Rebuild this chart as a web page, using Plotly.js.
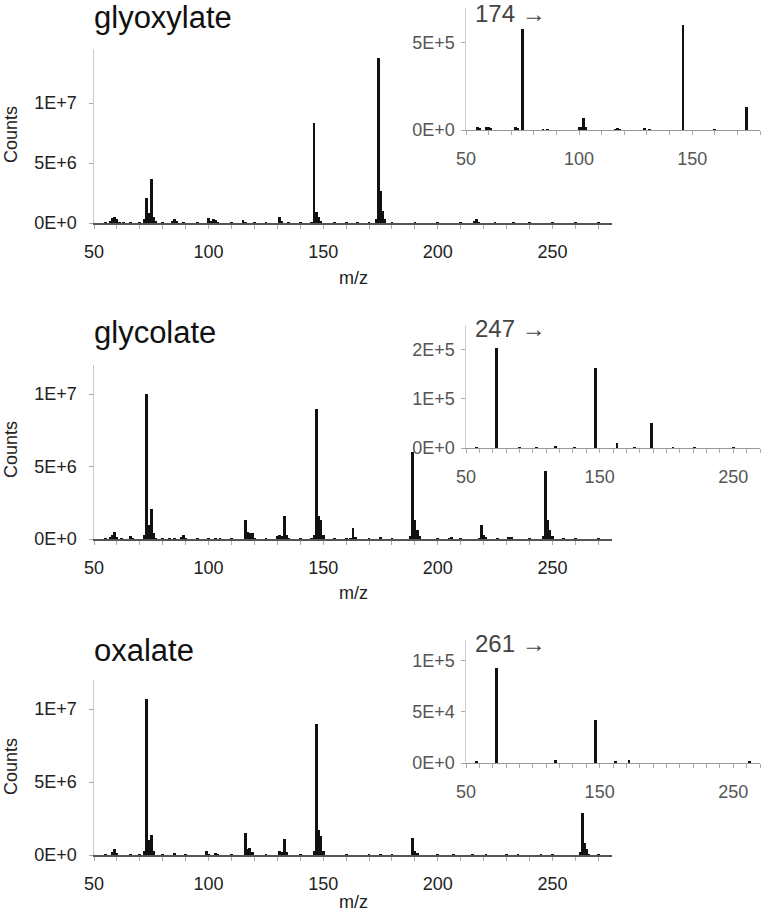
<!DOCTYPE html>
<html>
<head>
<meta charset="utf-8">
<script src="https://cdn.plot.ly/plotly-3.0.1.min.js"></script>
<style>html,body{margin:0;padding:0;background:#fff}#chart{width:767px;height:917px}</style>
</head>
<body>
<div id="chart"></div>
<script>
// ---------- DATA ----------
// glyoxylate full spectrum (counts in units of 1e6)
var glyoxMz = [55,57,58,59,60,61,63,66,70,72,73,74,75,76,77,80,84,85,86,89,95,100,101,102,103,104,110,115,116,120,125,131,132,135,140,145,146,147,148,149,155,160,165,170,173,174,175,176,177,180,190,200,210,216,217,218,225,233,240,250,260,270];
var glyoxCounts = [0.05,0.2,0.4,0.5,0.3,0.1,0.05,0.05,0.05,0.3,2.1,0.8,3.7,0.5,0.2,0.05,0.15,0.3,0.15,0.05,0.05,0.4,0.2,0.3,0.25,0.1,0.05,0.25,0.1,0.05,0.05,0.5,0.15,0.05,0.05,0.1,8.3,0.9,0.5,0.2,0.05,0.05,0.05,0.05,0.3,13.75,2.7,1.0,0.3,0.05,0.05,0.05,0.05,0.15,0.3,0.1,0.05,0.05,0.05,0.05,0.05,0.05];
// glyoxylate product ions of 174 (units of 1e5)
var glyoxInsetMz = [55,56,59,60,61,72,73,75,84,86,100,101,102,103,116,117,118,129,131,146,160,174];
var glyoxInsetCounts = [0.2,0.1,0.15,0.2,0.1,0.15,0.1,5.8,0.05,0.05,0.2,0.15,0.7,0.2,0.05,0.1,0.05,0.1,0.05,6.0,0.03,1.3];

// glycolate full spectrum (units of 1e6)
var glycoMz = [55,57,58,59,60,62,66,67,72,73,74,75,76,77,80,83,85,88,89,90,95,100,103,105,110,116,117,118,119,120,125,130,131,132,133,134,135,140,145,146,147,148,149,150,155,160,162,163,164,170,175,180,188,189,190,191,192,200,205,206,210,218,219,220,221,226,231,232,240,246,247,248,249,250,255,260,270];
var glycoCounts = [0.05,0.15,0.25,0.45,0.15,0.05,0.2,0.1,0.3,10.0,1.0,2.1,0.4,0.1,0.05,0.05,0.1,0.15,0.25,0.1,0.05,0.1,0.1,0.1,0.05,1.3,0.5,0.4,0.4,0.1,0.05,0.2,0.3,0.2,1.6,0.3,0.1,0.05,0.1,0.3,9.0,1.6,1.3,0.3,0.05,0.05,0.1,0.75,0.15,0.05,0.15,0.05,0.2,6.0,1.3,0.6,0.2,0.05,0.1,0.15,0.05,0.1,0.95,0.25,0.15,0.05,0.15,0.15,0.05,0.2,4.7,1.3,0.6,0.2,0.05,0.05,0.05];
// glycolate product ions of 247 (units of 1e5)
var glycoInsetMz = [58,73,90,103,117,131,147,163,176,189,205,221,235,250];
var glycoInsetCounts = [0.03,2.04,0.02,0.02,0.05,0.02,1.62,0.1,0.02,0.5,0.02,0.03,0.01,0.02];

// oxalate full spectrum (units of 1e6)
var oxalMz = [55,58,59,60,66,70,72,73,74,75,76,80,85,90,99,100,103,104,110,116,117,118,119,125,131,132,133,134,140,146,147,148,149,150,160,170,175,180,189,190,191,200,207,215,221,230,235,245,250,262,263,264,265,266,270];
var oxalCounts = [0.05,0.2,0.4,0.15,0.05,0.05,0.3,10.7,1.0,1.4,0.3,0.05,0.15,0.05,0.3,0.1,0.15,0.1,0.05,1.5,0.4,0.5,0.2,0.05,0.3,0.2,1.1,0.2,0.05,0.3,9.0,1.7,1.3,0.3,0.05,0.05,0.1,0.05,1.2,0.3,0.15,0.05,0.1,0.05,0.05,0.05,0.05,0.05,0.05,0.2,2.9,0.8,0.4,0.1,0.05];
// oxalate product ions of 261 (units of 1e4)
var oxalInsetMz = [58,73,117,147,162,172,262];
var oxalInsetCounts = [0.2,9.3,0.3,4.2,0.2,0.3,0.2];

var panelTitles = ["glyoxylate","glycolate","oxalate"];
var insetLabels = ["174 \u2192","247 \u2192","261 \u2192"];
var mainXTicks = [50,100,150,200,250];
var mainYTickVals = [0,5e6,1e7];
var mainYTickText = ["0E+0","5E+6","1E+7"];
var inset1XTicks = [50,100,150];
var inset1YTickVals = [0,5e5];
var inset1YTickText = ["0E+0","5E+5"];
var inset23XTicks = [50,150,250];
var inset2YTickVals = [0,1e5,2e5];
var inset2YTickText = ["0E+0","1E+5","2E+5"];
var inset3YTickVals = [0,5e4,1e5];
var inset3YTickText = ["0E+0","5E+4","1E+5"];

// ---------- BUILD ----------
function scale(arr, f){ return arr.map(function(v){return v*f;}); }
var W = 767, H = 917;
function px(x){ return x / W; }
function py(y){ return 1 - y / H; }

var FONT = "Liberation Sans, Arial, sans-serif";

function bar(x, y, xa, ya, w){
  return {type:'bar', x:x, y:y, xaxis:xa, yaxis:ya, width:w,
          marker:{color:'#111', line:{width:0}}, hoverinfo:'x+y'};
}

var traces = [
  bar(glyoxMz, scale(glyoxCounts,1e6), 'x', 'y', 1.2),
  bar(glyoxInsetMz, scale(glyoxInsetCounts,1e5), 'x2', 'y2', 1.2),
  bar(glycoMz, scale(glycoCounts,1e6), 'x3', 'y3', 1.2),
  bar(glycoInsetMz, scale(glycoInsetCounts,1e5), 'x4', 'y4', 2.0),
  bar(oxalMz, scale(oxalCounts,1e6), 'x5', 'y5', 1.2),
  bar(oxalInsetMz, scale(oxalInsetCounts,1e4), 'x6', 'y6', 2.0)
];

function mainX(yTop, yBot, anchor){
  return {domain:[px(94), px(612)], anchor:anchor, range:[50,276],
    tickmode:'array', tickvals:mainXTicks, ticks:'outside', ticklen:4, tickcolor:'#aaa',
    minor:{tickmode:'linear', tick0:50, dtick:10, ticks:'outside', ticklen:4, tickcolor:'#aaa'},
    showline:true, linecolor:'#555', linewidth:1.5, showgrid:false, zeroline:false,
    ticklabelstandoff:8,
    tickfont:{family:FONT, size:18, color:'#222'}, fixedrange:true};
}
function mainY(yTop, yBot, maxV, anchor){
  return {domain:[py(yBot), py(yTop)], anchor:anchor, range:[0,maxV],
    tickmode:'array', tickvals:mainYTickVals, ticktext:mainYTickText,
    ticks:'outside', ticklen:4, tickcolor:'#aaa', showline:true, linecolor:'#c8c8c8', linewidth:1.5,
    showgrid:false, zeroline:false, ticklabelstandoff:8,
    tickfont:{family:FONT, size:18, color:'#222'}, fixedrange:true};
}
function insetX(range, ticks, anchor){
  return {domain:[px(466), px(760)], anchor:anchor, range:range,
    tickmode:'array', tickvals:ticks, ticks:'outside', ticklen:4, tickcolor:'#aaa',
    minor:{tickmode:'linear', tick0:50, dtick:10, ticks:'outside', ticklen:4, tickcolor:'#aaa'},
    showline:true, linecolor:'#999', linewidth:1.2, showgrid:false, zeroline:false,
    ticklabelstandoff:8,
    tickfont:{family:FONT, size:18, color:'#555'}, fixedrange:true};
}
function insetY(yTop, yBot, maxV, vals, text, anchor){
  return {domain:[py(yBot), py(yTop)], anchor:anchor, range:[0,maxV],
    tickmode:'array', tickvals:vals, ticktext:text,
    ticks:'outside', ticklen:4, tickcolor:'#aaa', showline:true, linecolor:'#d0d0d0', linewidth:1.5,
    showgrid:false, zeroline:false, ticklabelstandoff:2,
    tickfont:{family:FONT, size:18, color:'#555'}, fixedrange:true};
}

var layout = {
  width:W, height:H, margin:{l:0,r:0,t:0,b:0}, showlegend:false,
  paper_bgcolor:'#fff', plot_bgcolor:'rgba(0,0,0,0)', bargap:0,
  font:{family:FONT, color:'#222'},
  xaxis: mainX(49,223,'y'),   yaxis: mainY(49,223,1.45e7,'x'),
  xaxis2: insetX([50,180], inset1XTicks, 'y2'), yaxis2: insetY(8,130,7e5,inset1YTickVals,inset1YTickText,'x2'),
  xaxis3: mainX(365,539,'y3'), yaxis3: mainY(365,539,1.2e7,'x3'),
  xaxis4: insetX([50,270], inset23XTicks, 'y4'), yaxis4: insetY(325,448,2.5e5,inset2YTickVals,inset2YTickText,'x4'),
  xaxis5: mainX(680,855,'y5'), yaxis5: mainY(680,855,1.2e7,'x5'),
  xaxis6: insetX([50,270], inset23XTicks, 'y6'), yaxis6: insetY(640,763,1.2e5,inset3YTickVals,inset3YTickText,'x6'),
  annotations: []
};

var titleY = [18, 332, 650];
var insetLabY = [13, 328, 643];
var countsY = [135, 450, 767];
var mzY = [278, 593, 902];
for (var i=0;i<3;i++){
  layout.annotations.push({xref:'paper', yref:'paper', x:px(92), y:py(titleY[i]), xanchor:'left', yanchor:'middle',
    text:panelTitles[i], showarrow:false, font:{family:FONT, size:31, color:'#111'}});
  layout.annotations.push({xref:'paper', yref:'paper', x:px(473), y:py(insetLabY[i]), xanchor:'left', yanchor:'middle',
    text:insetLabels[i], showarrow:false, font:{family:FONT, size:24, color:'#444'}});
  layout.annotations.push({xref:'paper', yref:'paper', x:px(11), y:py(countsY[i]), xanchor:'center', yanchor:'middle',
    text:'Counts', textangle:-90, showarrow:false, font:{family:FONT, size:18, color:'#222'}});
  layout.annotations.push({xref:'paper', yref:'paper', x:px(353), y:py(mzY[i]), xanchor:'center', yanchor:'middle',
    text:'m/z', showarrow:false, font:{family:FONT, size:18, color:'#222'}});
}

Plotly.newPlot('chart', traces, layout, {staticPlot:true, displayModeBar:false});
</script>
</body>
</html>
